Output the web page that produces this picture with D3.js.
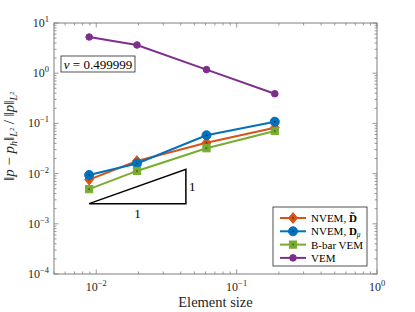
<!DOCTYPE html>
<html>
<head>
<meta charset="utf-8">
<script src="https://d3js.org/d3.v7.min.js"></script>
<style>
  body { margin: 0; background: #fff; }
  text { font-family: "Liberation Serif", "DejaVu Serif", serif; }
</style>
</head>
<body>
<div id="chart"></div>
<script>
// data
var elemSize = [0.0089, 0.0195, 0.061, 0.187];
var nvemDtilde = [0.0076, 0.0178, 0.041, 0.082];
var nvemDmu = [0.0094, 0.0159, 0.058, 0.108];
var bbarVem = [0.0049, 0.0113, 0.032, 0.0706];
var vem = [5.26, 3.65, 1.18, 0.39];
var seriesNames = ["NVEM, D̃", "NVEM, Dμ", "B-bar VEM", "VEM"];
var xTicks = [1e-2, 1e-1, 1];
var xTickExp = ["\u22122", "\u22121", "0"];
var yTicks = [1e-4, 1e-3, 1e-2, 1e-1, 1, 10];
var yTickExp = ["\u22124", "\u22123", "\u22122", "\u22121", "0", "1"];
// slope triangle corners (data units)
var triX = [0.0089, 0.0435];
var triY = [0.00252, 0.0122];

var W = 415, H = 312;
var margin = {top: 23, right: 38, bottom: 38, left: 54};
var width = W - margin.left - margin.right,
    height = H - margin.top - margin.bottom;

var svg = d3.select("#chart").append("svg")
  .attr("width", W).attr("height", H);
var g = svg.append("g")
  .attr("transform", "translate(" + margin.left + "," + margin.top + ")");

var x = d3.scaleLog().domain([0.005, 1]).range([0, width]);
var y = d3.scaleLog().domain([1e-4, 10]).range([height, 0]);

var axisColor = "#7f7f7f";

// minor + major ticks, inward on all four sides
var minorX = [], minorY = [];
for (var e = -3; e <= 0; e++) for (var k = 1; k < 10; k++) {
  var v = k * Math.pow(10, e);
  if (v >= 0.005 && v <= 1) minorX.push(v);
}
for (var e2 = -4; e2 <= 1; e2++) for (var k2 = 1; k2 < 10; k2++) {
  var v2 = k2 * Math.pow(10, e2);
  if (v2 >= 1e-4 && v2 <= 10) minorY.push(v2);
}
var tickG = g.append("g").attr("stroke", axisColor).attr("stroke-width", 0.8);
minorX.forEach(function(v) {
  var len = xTicks.indexOf(v) >= 0 ? 4.5 : 2.5;
  var px = x(v);
  tickG.append("line").attr("x1", px).attr("x2", px).attr("y1", height).attr("y2", height - len);
  tickG.append("line").attr("x1", px).attr("x2", px).attr("y1", 0).attr("y2", len);
});
minorY.forEach(function(v) {
  var isMajor = yTicks.some(function(t) { return Math.abs(t - v) / t < 1e-9; });
  var len = isMajor ? 4.5 : 2.5;
  var py = y(v);
  tickG.append("line").attr("y1", py).attr("y2", py).attr("x1", 0).attr("x2", len);
  tickG.append("line").attr("y1", py).attr("y2", py).attr("x1", width).attr("x2", width - len);
});

g.append("rect").attr("width", width).attr("height", height)
  .attr("fill", "none").attr("stroke", axisColor).attr("stroke-width", 1);

// tick labels
xTicks.forEach(function(t, i) {
  var lab = g.append("text").attr("x", x(t)).attr("y", height + 17)
    .attr("text-anchor", "middle").attr("font-size", 12).attr("fill", "#262626");
  lab.append("tspan").text("10");
  lab.append("tspan").attr("dy", -5).attr("font-size", 8.5).text(xTickExp[i]);
});
yTicks.forEach(function(t, i) {
  var lab = g.append("text").attr("x", -5).attr("y", y(t) + 4)
    .attr("text-anchor", "end").attr("font-size", 12).attr("fill", "#262626");
  lab.append("tspan").text("10");
  lab.append("tspan").attr("dy", -5).attr("font-size", 8.5).text(yTickExp[i]);
});

// axis labels
g.append("text").attr("x", width / 2).attr("y", height + 33)
  .attr("text-anchor", "middle").attr("font-size", 14.5).attr("fill", "#262626")
  .text("Element size");
var yl = g.append("text")
  .attr("transform", "translate(" + (-40) + "," + (height / 2 - 12) + ") rotate(-90)")
  .attr("text-anchor", "middle").attr("font-size", 15).attr("fill", "#262626");
yl.append("tspan").text("\u2016");
yl.append("tspan").attr("font-style", "italic").text("p");
yl.append("tspan").text(" \u2212 ");
yl.append("tspan").attr("font-style", "italic").text("p");
yl.append("tspan").attr("font-style", "italic").attr("font-size", 10).attr("dy", 3).text("h");
yl.append("tspan").attr("dy", -3).text("\u2016");
yl.append("tspan").attr("font-style", "italic").attr("font-size", 10).attr("dy", 3).text("L\u00b2");
yl.append("tspan").attr("dy", -3).text(" / \u2016");
yl.append("tspan").attr("font-style", "italic").text("p");
yl.append("tspan").text("\u2016");
yl.append("tspan").attr("font-style", "italic").attr("font-size", 10).attr("dy", 3).text("L\u00b2");

// series
var series = [
  {name: seriesNames[0], vals: nvemDtilde, color: "#D95319", marker: "diamond", size: 4.5},
  {name: seriesNames[1], vals: nvemDmu, color: "#0072BD", marker: "circle", size: 4.5},
  {name: seriesNames[2], vals: bbarVem, color: "#77AC30", marker: "square", size: 3.6},
  {name: seriesNames[3], vals: vem, color: "#7E2F8E", marker: "dot", size: 3.3}
];

function drawMarker(sel, s, cx, cy) {
  var r = s.size;
  if (s.marker === "diamond") {
    sel.append("path").attr("d", "M" + cx + "," + (cy - r * 1.2) + "L" + (cx + r) + "," + cy +
      "L" + cx + "," + (cy + r * 1.2) + "L" + (cx - r) + "," + cy + "Z")
      .attr("fill", s.color).attr("stroke", s.color);
  } else if (s.marker === "square") {
    sel.append("rect").attr("x", cx - r).attr("y", cy - r).attr("width", 2 * r).attr("height", 2 * r)
      .attr("fill", s.color).attr("stroke", s.color);
  } else {
    sel.append("circle").attr("cx", cx).attr("cy", cy).attr("r", r)
      .attr("fill", s.color).attr("stroke", s.color);
  }
  if (s.marker !== "dot") {
    sel.append("circle").attr("cx", cx).attr("cy", cy).attr("r", 1)
      .attr("fill", d3.color(s.color).darker(1.5));
  }
}

var line = d3.line().x(function(d) { return x(d[0]); }).y(function(d) { return y(d[1]); });
series.forEach(function(s) {
  var pts = elemSize.map(function(h, i) { return [h, s.vals[i]]; });
  g.append("path").datum(pts).attr("d", line)
    .attr("fill", "none").attr("stroke", s.color).attr("stroke-width", 2);
  var mg = g.append("g");
  pts.forEach(function(p) { drawMarker(mg, s, x(p[0]), y(p[1])); });
});

// slope triangle
var tri = [[triX[0], triY[0]], [triX[1], triY[0]], [triX[1], triY[1]]];
g.append("path").datum(tri).attr("d", line(tri) + "Z")
  .attr("fill", "none").attr("stroke", "#000").attr("stroke-width", 1.5);
g.append("text").attr("x", x(triX[1]) + 3).attr("y", y(Math.sqrt(triY[0] * triY[1])) + 5)
  .attr("font-size", 13).text("1");
g.append("text").attr("x", x(Math.sqrt(triX[0] * triX[1]))).attr("y", y(triY[0]) + 14)
  .attr("text-anchor", "middle").attr("font-size", 13).text("1");

// nu box
g.append("rect").attr("x", 7).attr("y", 33).attr("width", 74).attr("height", 16)
  .attr("fill", "#fff").attr("stroke", "#262626").attr("stroke-width", 0.8);
var nu = g.append("text").attr("x", 44).attr("y", 45.5).attr("text-anchor", "middle")
  .attr("font-size", 13).attr("fill", "#000");
nu.append("tspan").attr("font-style", "italic").text("\u03bd");
nu.append("tspan").text(" = 0.499999");

// legend
var lg = g.append("g").attr("transform", "translate(" + (width - 104) + "," + (height - 67) + ")");
lg.append("rect").attr("width", 94).attr("height", 59)
  .attr("fill", "#fff").attr("stroke", "#262626").attr("stroke-width", 0.8);
series.forEach(function(s, i) {
  var ly = 11 + i * 13.3;
  lg.append("line").attr("x1", 7).attr("x2", 33).attr("y1", ly).attr("y2", ly)
    .attr("stroke", s.color).attr("stroke-width", 2);
  drawMarker(lg, s, 20, ly);
  var t = lg.append("text").attr("x", 38).attr("y", ly + 4).attr("font-size", 11).attr("fill", "#000");
  if (i === 0) {
    t.append("tspan").text("NVEM, ");
    t.append("tspan").attr("font-weight", "bold").text("D\u0303");
  } else if (i === 1) {
    t.append("tspan").text("NVEM, ");
    t.append("tspan").attr("font-weight", "bold").text("D");
    t.append("tspan").attr("font-style", "italic").attr("font-size", 7.5).attr("dy", 2).text("\u03bc");
  } else {
    t.text(s.name);
  }
});
</script>
</body>
</html>
